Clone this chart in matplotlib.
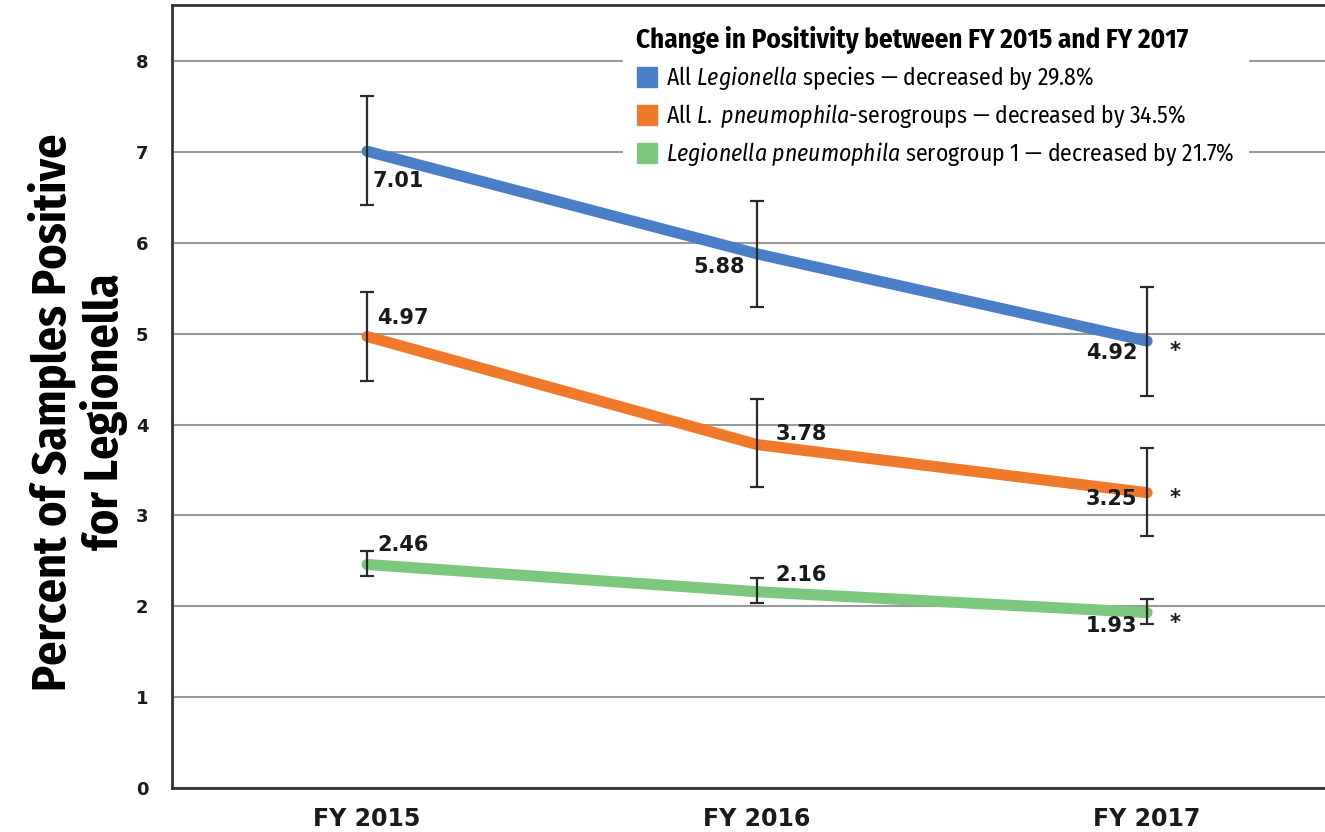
import matplotlib.pyplot as plt
from matplotlib.lines import Line2D

plt.rcParams['mathtext.fontset'] = 'custom'
plt.rcParams['mathtext.rm'] = 'Fira Sans Condensed'
plt.rcParams['mathtext.it'] = 'Fira Sans Condensed:italic'

years = ["FY 2015", "FY 2016", "FY 2017"]
all_species = [7.01, 5.88, 4.92]
all_species_lo = [6.42, 5.29, 4.32]
all_species_hi = [7.62, 6.46, 5.52]
pneumophila = [4.97, 3.78, 3.25]
pneumophila_lo = [4.48, 3.31, 2.77]
pneumophila_hi = [5.46, 4.28, 3.74]
serogroup1 = [2.46, 2.16, 1.93]
serogroup1_lo = [2.33, 2.04, 1.80]
serogroup1_hi = [2.61, 2.31, 2.08]

legend_title = "Change in Positivity between FY 2015 and FY 2017"
legend_labels = [
    r"All $\it{Legionella}$ species — decreased by 29.8%",
    r"All $\it{L.}$ $\it{pneumophila}$-serogroups — decreased by 34.5%",
    r"$\it{Legionella}$ $\it{pneumophila}$ serogroup 1 — decreased by 21.7%",
]
colors = ["#4a7fc8", "#f0792b", "#7cc87e"]

legend_font = ['Fira Sans Condensed', 'DejaVu Sans']
label_font = ['Fira Sans Condensed', 'DejaVu Sans']

fig = plt.figure(figsize=(13.25, 8.32), dpi=100)
ax = fig.add_axes([0.1298, 0.053, 0.8702, 0.941])

x = list(range(len(years)))
series = [
    (all_species, all_species_lo, all_species_hi),
    (pneumophila, pneumophila_lo, pneumophila_hi),
    (serogroup1, serogroup1_lo, serogroup1_hi),
]
for (vals, lo, hi), c in zip(series, colors):
    ax.plot(x, vals, color=c, lw=8, solid_capstyle='round', zorder=3)
    ax.errorbar(x, vals, yerr=[[v - l for v, l in zip(vals, lo)], [h - v for v, h in zip(vals, hi)]],
                fmt='none', ecolor='#2b2b2b', elinewidth=1.6, capsize=5, capthick=1.6, zorder=4)

# data labels: offsets in pixels
offsets = [
    [(6, -30, 'left'), (-12, -13, 'right'), (-10, -12, 'right')],
    [(10, 19, 'left'), (18, 11, 'left'), (-10, -6, 'right')],
    [(10, 19, 'left'), (18, 17, 'left'), (-10, -13, 'right')],
]
star_dy = [-10, -5, -10]
for (vals, _, _), offs, sdy in zip(series, offsets, star_dy):
    for i, v in enumerate(vals):
        dx, dy, ha = offs[i]
        ax.annotate(f"{v:.2f}", (i, v), xytext=(dx, dy), textcoords='offset pixels',
                    ha=ha, va='center', fontsize=15, fontweight='bold', color='#1a1a1a', zorder=5)
    ax.annotate("*", (2, vals[2]), xytext=(28, sdy), textcoords='offset pixels',
                ha='center', va='center', fontsize=15, fontweight='bold', color='#1a1a1a')

ax.set_xlim(-0.5, 2.456)
ax.set_ylim(0, 8.62)
ax.set_yticks(range(0, 9))
ax.set_xticks(x)
ax.set_xticklabels(years)
ax.tick_params(length=0)
ax.tick_params(axis='y', pad=17, labelsize=13)
ax.tick_params(axis='x', pad=14, labelsize=17)
for lab in ax.get_xticklabels() + ax.get_yticklabels():
    lab.set_fontweight('bold')
    lab.set_color('#1a1a1a')
ax.yaxis.grid(True, color='#9a9a9a', lw=1.5)
ax.set_axisbelow(True)
ax.spines['right'].set_visible(False)
for s in ['left', 'bottom', 'top']:
    ax.spines[s].set_color('#333333')
    ax.spines[s].set_linewidth(2)

fig.text(0.059, 0.505, "Percent of Samples Positive\nfor Legionella", rotation=90,
         ha='center', va='center', fontsize=34.5, fontweight='bold',
         family=label_font, linespacing=1.12)

handles = [Line2D([], [], marker='s', ls='none', color=c, markersize=14) for c in colors]
leg = fig.legend(handles, legend_labels, title=legend_title, loc='upper left',
                 bbox_to_anchor=(0.461, 0.998), frameon=True, fancybox=False,
                 handletextpad=0.3, handlelength=1.0, borderpad=0.55, labelspacing=0.45,
                 prop={'family': legend_font, 'size': 17},
                 title_fontproperties={'family': legend_font, 'size': 19.5, 'weight': 'bold'})
leg.get_frame().set_edgecolor('white')
leg.get_frame().set_facecolor('white')
leg.get_frame().set_alpha(1)
leg._legend_box.align = 'left'

fig.savefig("out.png", dpi=100)
